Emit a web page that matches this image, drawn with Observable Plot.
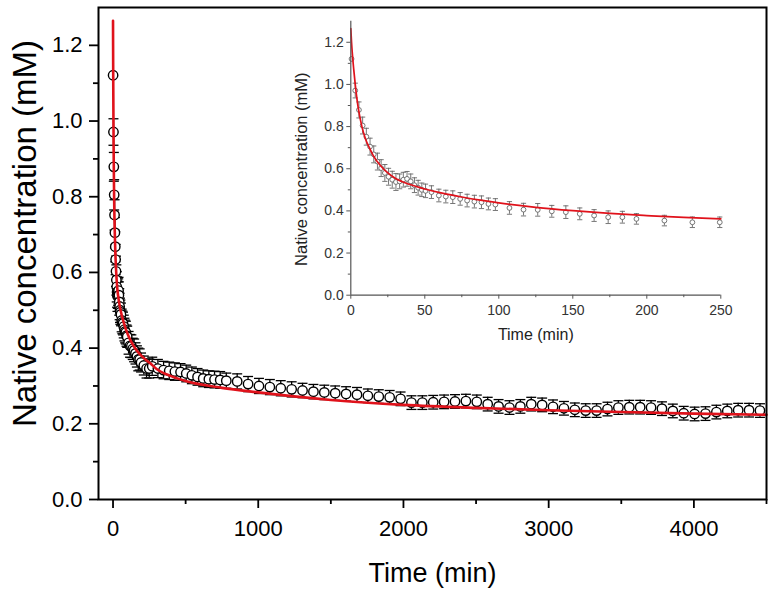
<!DOCTYPE html>
<html><head><meta charset="utf-8">
<script src="https://cdn.jsdelivr.net/npm/d3@7"></script>
<script src="https://cdn.jsdelivr.net/npm/@observablehq/plot@0.6"></script>
<style>
body{margin:0;background:#fff;}
#wrap{position:relative;width:773px;height:593px;background:#fff;}
#wrap svg{position:absolute;overflow:visible;}
</style></head><body><div id="wrap"></div>
<script>
// ---- early measurements (0-250 min), shown in inset and main ----
const earlyTime = [0.5,3,5.5,8,10.5,13,15.5,18,20.5,23,25.5,28,30.5,33,35.5,38,40.5,43,45.5,48,50.5,
  54.5,59.5,64.2,68.9,73.9,78.6,83.5,88.3,93,97.7,107.2,116.7,126.3,135.8,145.3,154.7,164.4,173.9,183.5,193,211.9,230.8,249.3];
const earlyConc = [1.121,0.971,0.879,0.805,0.752,0.705,0.668,0.634,0.603,0.580,0.562,0.548,0.537,0.540,0.548,0.552,0.540,0.522,0.510,0.500,0.495,
  0.489,0.473,0.468,0.465,0.457,0.449,0.444,0.441,0.433,0.430,0.414,0.406,0.405,0.398,0.394,0.386,0.378,0.370,0.370,0.362,0.354,0.346,0.346];
const earlyErr = [0,0.035,0.038,0.04,0.04,0.04,0.04,0.04,0.04,0.04,0.04,0.04,0.04,0.035,0.035,0.035,0.035,0.035,0.035,0.032,0.032,
  0.03,0.03,0.03,0.03,0.03,0.03,0.03,0.03,0.028,0.028,0.03,0.03,0.03,0.028,0.03,0.028,0.028,0.03,0.028,0.025,0.025,0.025,0.025];

// ---- later measurements (main chart only) ----
const lateTime = [270,309,348,387,426,465,504,543,582,621,660,699,738,
  780,855,930,1005,1080,1155,1230,1305,1380,1455,1530,1605,1680,1755,1830,1905,1980,2055,2130,2205,2280,2355,2430,2505,2580,2655,2730,2805,2880,2955,3030,3105,3180,3255,3330,3405,3480,3555,3630,3705,3780,3855,3930,4005,4080,4155,4230,4305,4380,4455];
const lateConc = [0.352,0.346,0.342,0.340,0.338,0.337,0.333,0.328,0.324,0.320,0.318,0.317,0.316,
  0.314,0.312,0.305,0.300,0.297,0.294,0.291,0.288,0.285,0.283,0.281,0.279,0.277,0.274,0.272,0.270,0.266,0.256,0.256,0.257,0.258,0.259,0.260,0.258,0.252,0.246,0.243,0.246,0.252,0.250,0.245,0.241,0.237,0.235,0.235,0.239,0.243,0.244,0.244,0.243,0.240,0.234,0.228,0.226,0.227,0.231,0.234,0.236,0.236,0.235];
const lateErr = [0.024,0.024,0.023,0.023,0.023,0.022,0.022,0.022,0.022,0.022,0.022,0.022,0.022,
  0.02,0.02,0.02,0.02,0.02,0.02,0.02,0.019,0.019,0.019,0.019,0.019,0.019,0.018,0.018,0.018,0.018,0.018,0.018,0.018,0.018,0.018,0.018,0.018,0.018,0.018,0.018,0.018,0.018,0.018,0.018,0.018,0.018,0.018,0.018,0.018,0.018,0.018,0.018,0.018,0.018,0.018,0.018,0.018,0.018,0.018,0.018,0.018,0.018,0.018];

// ---- fitted curve (red) ----
const fitTime = [0,0.5,1,2,3,4,5,7.5,10,12.5,15,20,25,30,40,50,62.5,75,87.5,100,125,150,175,200,225,250,300,400,500,750,1000,1500,2000,2500,3000,3500,4000,4500];
const fitConc = [1.265,1.2,1.15,1.07,1.0,0.94,0.89,0.80,0.74,0.70,0.665,0.615,0.58,0.555,0.525,0.504,0.483,0.466,0.451,0.438,0.417,0.401,0.388,0.378,0.369,0.362,0.345,0.326,0.313,0.295,0.283,0.263,0.250,0.242,0.236,0.231,0.227,0.224];

// ---- ticks ----
const mainXTicks = [0,1000,2000,3000,4000];
const mainXMinor = [500,1500,2500,3500,4500];
const mainYTicks = [0,0.2,0.4,0.6,0.8,1.0,1.2];
const mainYMinor = [0.1,0.3,0.5,0.7,0.9,1.1];
const insetXTicks = [0,50,100,150,200,250];
const insetXMinor = [25,75,125,175,225];
const insetYTicks = [0,0.2,0.4,0.6,0.8,1.0,1.2];
const insetYMinor = [0.1,0.3,0.5,0.7,0.9,1.1];

const xLabel = "Time (min)";
const yLabel = "Native concentration (mM)";

const early = earlyTime.map((t,i)=>({t, v:earlyConc[i], e:earlyErr[i]}));
const late = lateTime.map((t,i)=>({t, v:lateConc[i], e:lateErr[i]}));
const all = early.concat(late);
const withErr = all.filter(d => d.e > 0);
const earlyWithErr = early.filter(d => d.e > 0);
const fit = fitTime.map((t,i)=>({t, v:fitConc[i]}));

const cap = {draw(ctx, size){ const r = Math.sqrt(size/Math.PI); ctx.moveTo(-r,0); ctx.lineTo(r,0); }};
const fmt = d3.format(".1f");
const intFmt = d => String(d);
const FONT = "Liberation Sans, Arial, Helvetica, sans-serif";

const main = Plot.plot({
  width: 773, height: 593,
  marginLeft: 98, marginRight: 7, marginTop: 7, marginBottom: 94,
  x: {domain: [-100, 4500]},
  y: {domain: [0, 1.3]},
  style: {fontFamily: FONT, color: "black", background: "white", overflow: "visible"},
  marks: [
    Plot.ruleX(withErr, {x: "t", y1: d => d.v - d.e, y2: d => d.v + d.e, stroke: "black", strokeWidth: 1.3}),
    Plot.dot(withErr, {x: "t", y: d => d.v + d.e, symbol: cap, r: 5, stroke: "black", strokeWidth: 1.3}),
    Plot.dot(withErr, {x: "t", y: d => d.v - d.e, symbol: cap, r: 5, stroke: "black", strokeWidth: 1.3}),
    Plot.dot(all, {x: "t", y: "v", r: 4.7, stroke: "black", fill: "white", strokeWidth: 1.4}),
    Plot.line(fit, {x: "t", y: "v", stroke: "#e0121b", strokeWidth: 2.6, curve: "monotone-x"}),
    Plot.frame({stroke: "black", strokeWidth: 2}),
    Plot.axisY({ticks: mainYTicks, tickSize: 9, tickPadding: 7, tickFormat: fmt, fontSize: 22, strokeWidth: 1.8, label: null}),
    Plot.axisY({ticks: mainYMinor, tickSize: 5, tickFormat: () => "", strokeWidth: 1.8, label: null}),
    Plot.axisX({ticks: mainXTicks, tickSize: 9, tickPadding: 12, tickFormat: intFmt, fontSize: 22, strokeWidth: 1.8, label: null}),
    Plot.axisX({ticks: mainXMinor, tickSize: 5, tickFormat: () => "", strokeWidth: 1.8, label: null}),
    Plot.text([xLabel], {frameAnchor: "bottom", dy: 74, lineAnchor: "middle", textAnchor: "middle", fontSize: 27, fill: "black"}),
    Plot.text([yLabel], {frameAnchor: "left", dx: -73, dy: -20, rotate: -90, lineAnchor: "middle", textAnchor: "middle", fontSize: 33, fill: "black"})
  ]
});

const inset = Plot.plot({
  width: 460, height: 350,
  marginLeft: 70.3, marginRight: 19.7, marginTop: 20.7, marginBottom: 55.3,
  x: {domain: [0, 250]},
  y: {domain: [0, 1.3]},
  style: {fontFamily: FONT, color: "#333", background: "none", overflow: "visible"},
  marks: [
    Plot.ruleX(earlyWithErr, {x: "t", y1: d => d.v - d.e, y2: d => d.v + d.e, stroke: "#666", strokeWidth: 0.9}),
    Plot.dot(earlyWithErr, {x: "t", y: d => d.v + d.e, symbol: cap, r: 2.6, stroke: "#666", strokeWidth: 0.9}),
    Plot.dot(earlyWithErr, {x: "t", y: d => d.v - d.e, symbol: cap, r: 2.6, stroke: "#666", strokeWidth: 0.9}),
    Plot.dot(early, {x: "t", y: "v", r: 2.4, stroke: "#666", fill: "white", strokeWidth: 0.9}),
    Plot.line(fit.filter(d => d.t <= 250), {x: "t", y: "v", stroke: "#e0121b", strokeWidth: 1.7, curve: "monotone-x"}),
    Plot.ruleX([0], {stroke: "#555", strokeWidth: 1.2}),
    Plot.ruleY([0], {stroke: "#555", strokeWidth: 1.2}),
    Plot.axisY({ticks: insetYTicks, tickSize: 4, tickPadding: 3, tickFormat: fmt, fontSize: 14, stroke: "#555", fill: "#333", label: null}),
    Plot.axisY({ticks: insetYMinor, tickSize: 2.5, tickFormat: () => "", stroke: "#555", label: null}),
    Plot.axisX({ticks: insetXTicks, tickSize: 4, tickPadding: 6, tickFormat: intFmt, fontSize: 14, stroke: "#555", fill: "#333", label: null}),
    Plot.axisX({ticks: insetXMinor, tickSize: 2.5, tickFormat: () => "", stroke: "#555", label: null}),
    Plot.text([xLabel], {frameAnchor: "bottom", dy: 40, lineAnchor: "middle", textAnchor: "middle", fontSize: 16, fill: "#222"}),
    Plot.text([yLabel], {frameAnchor: "left", dx: -48.6, dy: 11, rotate: -90, lineAnchor: "middle", textAnchor: "middle", fontSize: 16.5, fill: "#222"})
  ]
});

const wrap = document.getElementById("wrap");
main.style.left = "0px"; main.style.top = "0px";
inset.style.left = "280px"; inset.style.top = "0px";
wrap.appendChild(main);
wrap.appendChild(inset);
</script>
</body></html>
